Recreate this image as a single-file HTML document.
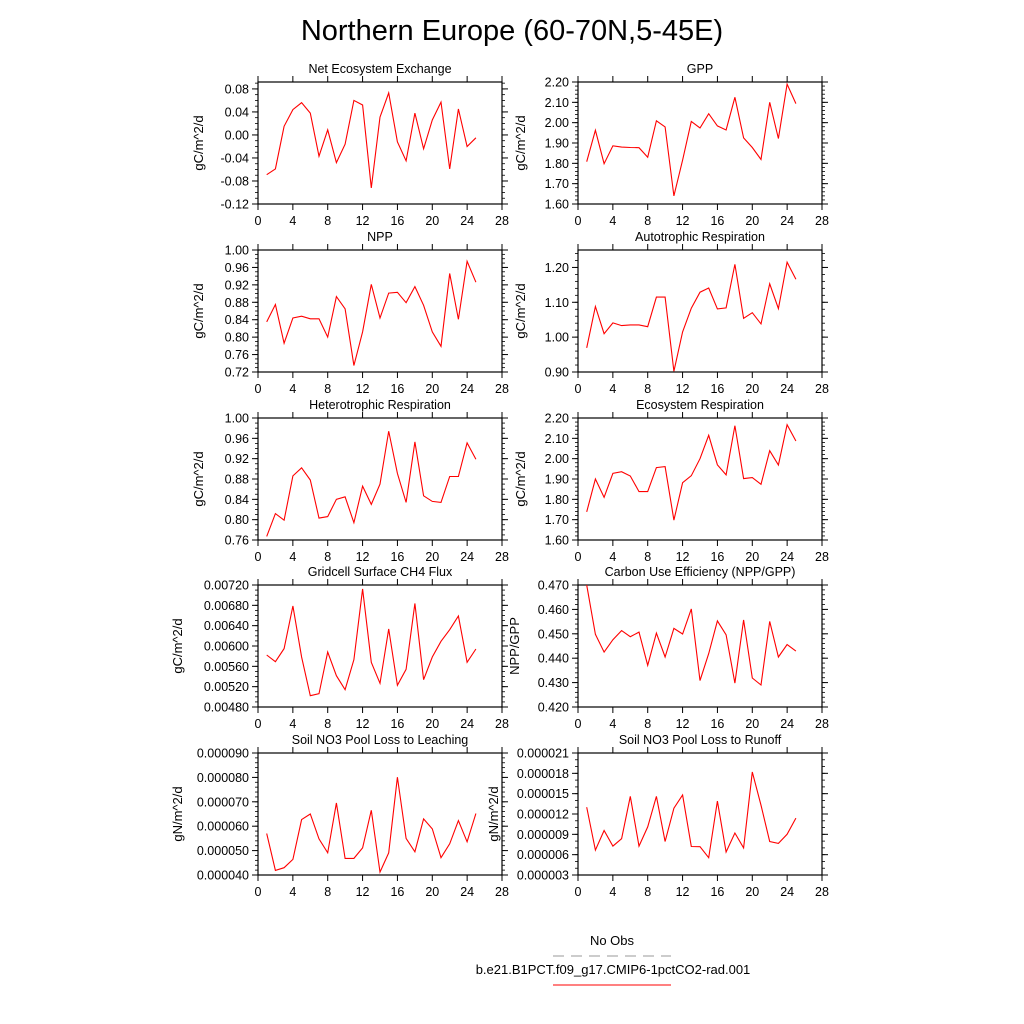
<!DOCTYPE html>
<html><head><meta charset="utf-8"><style>
body{margin:0;background:#fff;}
svg{display:block;font-family:"Liberation Sans",sans-serif;}
</style></head><body>
<svg id="chart" width="1024" height="1024" viewBox="0 0 1024 1024">
<text x="512" y="40" font-size="29" text-anchor="middle">Northern Europe (60-70N,5-45E)</text>
<g id="panels"></g>
<g>
<text x="612" y="945" font-size="13" text-anchor="middle">No Obs</text>
<line x1="553" y1="956" x2="671" y2="956" stroke="#999" stroke-width="1" stroke-dasharray="11,7"/>
<text x="613" y="974" font-size="13" text-anchor="middle">b.e21.B1PCT.f09_g17.CMIP6-1pctCO2-rad.001</text>
<line x1="553" y1="985" x2="671" y2="985" stroke="#f00" stroke-width="1"/>
</g>
</svg>
<script>
const years = [1,2,3,4,5,6,7,8,9,10,11,12,13,14,15,16,17,18,19,20,21,22,23,24,25];
const xTickLabels = ["0","4","8","12","16","20","24","28"];
const neeValues = [-0.069,-0.059,0.015,0.044,0.056,0.038,-0.037,0.009,-0.048,-0.016,0.060,0.052,-0.092,0.031,0.073,-0.012,-0.045,0.038,-0.024,0.026,0.057,-0.059,0.045,-0.020,-0.005];
const gppValues = [1.808,1.963,1.798,1.886,1.880,1.878,1.877,1.830,2.009,1.979,1.640,1.816,2.006,1.974,2.044,1.984,1.964,2.125,1.925,1.878,1.819,2.100,1.922,2.189,2.094];
const nppValues = [0.835,0.875,0.786,0.844,0.848,0.842,0.842,0.800,0.893,0.865,0.735,0.812,0.921,0.844,0.901,0.903,0.879,0.916,0.873,0.812,0.779,0.946,0.841,0.974,0.926];
const arValues = [0.969,1.088,1.010,1.041,1.033,1.035,1.035,1.030,1.115,1.115,0.902,1.015,1.083,1.129,1.141,1.081,1.084,1.209,1.054,1.070,1.038,1.153,1.082,1.215,1.166];
const hrValues = [0.767,0.812,0.799,0.886,0.902,0.878,0.803,0.806,0.840,0.845,0.794,0.866,0.830,0.870,0.974,0.891,0.834,0.953,0.847,0.836,0.834,0.885,0.885,0.951,0.919];
const erValues = [1.738,1.900,1.810,1.928,1.936,1.915,1.838,1.838,1.956,1.961,1.698,1.882,1.916,2.000,2.115,1.970,1.920,2.162,1.902,1.907,1.874,2.039,1.969,2.167,2.087];
const ch4Values = [0.005823,0.005692,0.005948,0.006787,0.005784,0.005023,0.005062,0.005882,0.005416,0.005141,0.005731,0.007121,0.005679,0.005266,0.006334,0.005226,0.005541,0.006839,0.005338,0.005784,0.006092,0.006321,0.006590,0.005679,0.005941];
const cueValues = [0.470,0.4498,0.4425,0.4476,0.4513,0.4488,0.4507,0.4371,0.4503,0.4405,0.4522,0.4499,0.4602,0.4308,0.4419,0.4553,0.4496,0.4298,0.4557,0.4319,0.4290,0.4551,0.4405,0.4456,0.4429];
const leachValues = [5.70e-5,4.19e-5,4.30e-5,4.64e-5,6.27e-5,6.50e-5,5.48e-5,4.91e-5,6.95e-5,4.68e-5,4.68e-5,5.11e-5,6.65e-5,4.12e-5,4.91e-5,8.01e-5,5.50e-5,4.95e-5,6.30e-5,5.89e-5,4.71e-5,5.28e-5,6.23e-5,5.36e-5,6.52e-5];
const runoffValues = [13.0e-6,6.68e-6,9.57e-6,7.27e-6,8.35e-6,14.6e-6,7.27e-6,10.1e-6,14.6e-6,7.95e-6,12.86e-6,14.8e-6,7.2e-6,7.17e-6,5.55e-6,13.9e-6,6.4e-6,9.2e-6,7.0e-6,18.2e-6,13.3e-6,7.95e-6,7.66e-6,9.0e-6,11.4e-6];

const NS = "http://www.w3.org/2000/svg";
const root = document.getElementById("panels");
function mk(tag, attrs, parent){const e=document.createElementNS(NS,tag);for(const k in attrs)e.setAttribute(k,attrs[k]);parent.appendChild(e);return e;}

const panels = [
 {name:"nee",title:"Net Ecosystem Exchange",vals:neeValues,col:0,row:0,ymin:-0.12,ymax:0.092,step:0.04,n:5,minor:4,dec:2,ytitle:"gC/m^2/d",tx:203},
 {name:"gpp",title:"GPP",vals:gppValues,col:1,row:0,ymin:1.6,ymax:2.2,step:0.1,n:6,minor:5,dec:2,ytitle:"gC/m^2/d",tx:525},
 {name:"npp",title:"NPP",vals:nppValues,col:0,row:1,ymin:0.72,ymax:1.0,step:0.04,n:7,minor:4,dec:2,ytitle:"gC/m^2/d",tx:203},
 {name:"autotrophic-respiration",title:"Autotrophic Respiration",vals:arValues,col:1,row:1,ymin:0.9,ymax:1.25,step:0.1,n:3,minor:5,dec:2,ytitle:"gC/m^2/d",tx:525},
 {name:"heterotrophic-respiration",title:"Heterotrophic Respiration",vals:hrValues,col:0,row:2,ymin:0.76,ymax:1.0,step:0.04,n:6,minor:4,dec:2,ytitle:"gC/m^2/d",tx:203},
 {name:"ecosystem-respiration",title:"Ecosystem Respiration",vals:erValues,col:1,row:2,ymin:1.6,ymax:2.2,step:0.1,n:6,minor:5,dec:2,ytitle:"gC/m^2/d",tx:525},
 {name:"ch4-flux",title:"Gridcell Surface CH4 Flux",vals:ch4Values,col:0,row:3,ymin:0.0048,ymax:0.0072,step:0.0004,n:6,minor:4,dec:5,ytitle:"gC/m^2/d",tx:182},
 {name:"carbon-use-efficiency",title:"Carbon Use Efficiency (NPP/GPP)",vals:cueValues,col:1,row:3,ymin:0.42,ymax:0.47,step:0.01,n:5,minor:5,dec:3,ytitle:"NPP/GPP",tx:519},
 {name:"no3-leaching",title:"Soil NO3 Pool Loss to Leaching",vals:leachValues,col:0,row:4,ymin:0.00004,ymax:0.00009,step:0.00001,n:5,minor:5,dec:6,ytitle:"gN/m^2/d",tx:182},
 {name:"no3-runoff",title:"Soil NO3 Pool Loss to Runoff",vals:runoffValues,col:1,row:4,ymin:0.000003,ymax:0.000021,step:0.000003,n:6,minor:3,dec:6,ytitle:"gN/m^2/d",tx:498}
];
const rowTops=[82,250,418,585,753];
const H=122, colLeft=[258,578], W=244;

panels.forEach(p=>{
  const L=colLeft[p.col], T=rowTops[p.row], B=T+H, R=L+W;
  const g=mk("g",{},root);
  
  
  const xs=v=>L+(v-0)/28*W;
  const ys=v=>B-(v-p.ymin)/(p.ymax-p.ymin)*H;
  // minor y ticks
  const nMinor=Math.round((p.ymax-p.ymin)/(p.step/p.minor)+1e-6);
  for(let i=0;i<=nMinor;i++){
    const v=p.ymin+i*p.step/p.minor; const y=ys(v);
    if(y<T-0.5) continue;
    mk("line",{x1:L-3,x2:L,y1:y,y2:y,stroke:"#000","stroke-width":0.8},g);
    mk("line",{x1:R,x2:R+3,y1:y,y2:y,stroke:"#000","stroke-width":0.8},g);
  }
  for(let i=0;i<=p.n;i++){
    const v=p.ymin+i*p.step; const y=ys(v);
    if(y<T-0.5) continue;
    mk("line",{x1:L-6,x2:L,y1:y,y2:y,stroke:"#000","stroke-width":1},g);
    mk("line",{x1:R,x2:R+6,y1:y,y2:y,stroke:"#000","stroke-width":1},g);
    const t=mk("text",{x:L-9,y:y+4.5,"font-size":12.5,"text-anchor":"end"},g);
    
    
    t.textContent=v.toFixed(p.dec);
  }
  xTickLabels.forEach(lbl=>{
    const x=xs(parseFloat(lbl));
    mk("line",{x1:x,x2:x,y1:B,y2:B+6,stroke:"#000","stroke-width":1},g);
    mk("line",{x1:x,x2:x,y1:T-6,y2:T,stroke:"#000","stroke-width":1},g);
    const t=mk("text",{x:x,y:B+21,"font-size":12.5,"text-anchor":"middle"},g);
    
    
    t.textContent=lbl;
  });
  const fr=mk("rect",{x:L,y:T,width:W,height:H,fill:"none",stroke:"#000","stroke-width":1.2},g);
  
  
  const tt=mk("text",{x:L+W/2,y:T-9,"font-size":12.5,"text-anchor":"middle"},g);
  
  
  tt.textContent=p.title;
  const yt=mk("text",{x:p.tx,y:T+H/2,"font-size":13,"text-anchor":"middle",transform:"rotate(-90 "+p.tx+" "+(T+H/2)+")"},g);
  
  
  yt.textContent=p.ytitle;
  const pts=years.map((yr,i)=>xs(yr).toFixed(1)+","+ys(p.vals[i]).toFixed(1)).join(" ");
  const ln=mk("polyline",{points:pts,fill:"none",stroke:"#f00","stroke-width":1.1},g);
  
  
});
</script>
</body></html>
